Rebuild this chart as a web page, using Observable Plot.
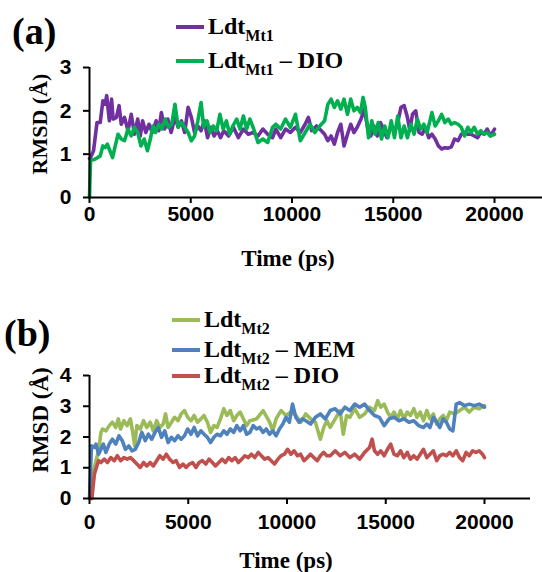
<!DOCTYPE html>
<html>
<head>
<meta charset="utf-8">
<script src="https://cdn.jsdelivr.net/npm/d3@7"></script>
<script src="https://cdn.jsdelivr.net/npm/@observablehq/plot@0.6"></script>
<style>
  html, body { margin: 0; padding: 0; background: #fff; overflow: hidden; }
  #wrap { position: relative; width: 542px; height: 572px; overflow: hidden; background: #fff; }
  .abs { position: absolute; white-space: nowrap; color: #000; }
  .serif { font-family: "Liberation Serif", "Times New Roman", serif; font-weight: bold; }
  .panel { font-size: 38px; line-height: 1; }
  .leg { font-size: 24px; line-height: 1; }
  .leg .sub { font-size: 16px; position: relative; top: 7px; }
  .swatch { position: absolute; height: 4px; width: 28px; }
  .ytitle { font-size: 22px; transform: translate(-50%, -50%) rotate(-90deg); line-height: 1; }
  .ytitle.big { font-size: 23px; }
  .xtitle { font-size: 23px; transform: translateX(-50%); line-height: 1; }
</style>
</head>
<body>
<div id="wrap">
  <div id="pa" class="abs" style="left:0;top:0"></div>
  <div id="pb" class="abs" style="left:0;top:300px"></div>
</div>
<script>
// ---------- panel (a) data ----------
const timeA1 = [0,50,200,370,530,660,770,850,980,1090,1170,1330,1460,1570,1730,1900,2060,2220,2380,2510,2620,2780,2940,3100,3290,3420,3550,3710,3870,4030,4220,4380,4540,4700,4870,5030,5190,5350,5510,5670,5830,5990,6150,6310,6470,6630,6870,7110,7350,7600,7840,8080,8320,8560,8800,9040,9200,9440,9680,9920,10170,10410,10650,10810,10970,11210,11450,11610,11770,11930,12090,12250,12410,12570,12740,12900,13060,13220,13410,13570,13730,13890,14050,14210,14370,14530,14690,14900,15060,15220,15380,15540,15700,15820,15950,16110,16270,16430,16590,16750,16910,17070,17230,17390,17550,17710,17870,18030,18200,18360,18520,18680,18840,19000,19160,19320,19480,19640,19800,20000];
const rmsdA1 = [0.9,0.92,1.08,1.73,1.73,2.23,2.15,2.35,1.77,2.27,1.81,1.85,2.12,1.69,1.85,1.54,1.92,1.46,1.81,1.42,1.77,1.5,1.69,1.5,1.77,1.54,1.96,1.58,1.81,1.5,1.85,1.62,1.77,1.5,2.08,1.85,1.5,1.65,1.54,1.77,1.38,1.62,1.42,1.54,1.38,1.54,1.42,1.62,1.38,1.58,1.46,1.5,1.42,1.58,1.46,1.38,1.58,1.38,1.58,1.5,1.62,1.5,1.69,1.85,1.54,1.65,1.54,1.46,1.31,1.42,1.23,1.5,1.69,1.19,1.46,1.69,1.5,1.62,1.81,2.04,1.62,1.42,1.65,1.42,1.73,1.54,1.38,1.65,1.5,1.73,2.08,2.12,1.85,1.54,1.92,2.0,1.5,1.46,1.62,1.38,1.46,1.35,1.19,1.12,1.15,1.14,1.17,1.35,1.31,1.46,1.5,1.46,1.46,1.42,1.38,1.5,1.46,1.58,1.42,1.58];

const timeA2 = [0,50,290,530,660,770,880,1010,1140,1250,1410,1570,1730,1900,2060,2220,2380,2540,2700,2860,3020,3130,3260,3420,3580,3740,3900,4060,4220,4380,4540,4700,4870,5030,5190,5350,5510,5640,5800,5960,6120,6280,6440,6600,6760,6920,7080,7270,7430,7600,7760,7920,8080,8320,8560,8800,9040,9200,9440,9680,9920,10170,10410,10650,10890,11130,11370,11610,11770,11930,12090,12250,12410,12570,12740,12900,13060,13220,13380,13510,13620,13780,13940,14100,14260,14420,14580,14740,14900,15060,15220,15380,15540,15700,15870,16030,16190,16350,16510,16670,16910,17070,17230,17390,17550,17710,17870,18030,18200,18360,18520,18680,18840,19000,19160,19320,19480,19640,19800,20000];
const rmsdA2 = [0,0.85,0.89,0.96,1.19,1.15,1.23,1.08,0.92,1.15,1.46,1.35,1.31,1.58,1.42,1.62,1.5,1.19,1.35,1.08,1.38,1.65,1.5,1.69,1.58,1.81,1.62,1.69,2.15,1.62,1.73,1.62,1.5,1.31,1.42,1.77,2.19,1.62,1.77,1.5,1.65,1.54,1.92,1.58,1.77,1.46,1.65,1.81,1.58,1.88,1.58,1.81,1.62,1.27,1.35,1.27,1.62,1.69,1.58,1.81,1.62,1.92,1.31,1.5,1.69,1.5,1.65,1.77,2.15,2.27,2.08,2.23,2.04,2.27,1.92,2.27,2.0,2.08,1.96,2.31,2.08,1.38,1.77,1.46,1.73,1.35,1.65,1.38,1.77,1.38,1.88,1.38,1.65,1.38,1.69,1.46,1.81,1.58,1.69,1.5,1.96,1.65,1.77,1.92,1.73,1.81,1.69,1.73,1.69,1.62,1.42,1.62,1.5,1.62,1.46,1.54,1.46,1.5,1.42,1.46];

// ---------- panel (b) data ----------
const timeB1 = [80,170,330,460,580,660,830,1000,1160,1330,1460,1570,1740,1900,2070,2190,2290,2400,2570,2740,2900,3070,3230,3400,3560,3730,3850,3980,4150,4310,4480,4640,4810,4970,5140,5300,5470,5640,5800,5970,6130,6300,6460,6630,6800,6960,7130,7300,7460,7630,7790,7960,8120,8460,8790,9120,9280,9450,9700,9950,10200,10450,10700,10950,11200,11440,11690,11860,12020,12190,12440,12690,12850,13020,13180,13430,13680,13930,14180,14430,14590,14750,14920,15090,15250,15420,15590,15750,15920,16090,16250,16420,16580,16750,16910,17080,17240,17410,17580,17740,17910,18070,18240,18490,18740,18990,19230,19480,19730,20000];
const rmsdB1 = [0,0.8,1.23,1.55,2.15,2.26,2.2,2.37,2.48,2.31,2.59,2.26,2.53,2.37,2.59,2.15,1.71,2.37,2.26,2.53,2.31,2.48,2.2,2.53,2.31,2.42,2.75,2.31,2.48,2.64,2.53,2.75,2.86,2.64,2.53,2.7,2.48,2.59,2.7,2.48,2.15,2.37,2.31,2.59,2.92,2.7,2.86,2.53,2.7,2.81,2.59,2.37,2.53,2.59,2.86,2.48,2.2,2.59,2.86,2.7,2.81,2.7,2.48,2.75,2.59,2.48,1.93,2.31,2.53,2.31,2.59,2.86,2.09,2.7,2.64,2.92,2.64,2.75,2.97,2.86,3.18,2.97,3.07,2.81,2.64,2.81,2.59,2.86,2.59,2.81,2.7,2.92,2.64,2.81,2.53,2.86,2.59,2.75,2.42,2.59,2.7,2.53,2.81,2.75,2.86,2.97,2.81,2.97,2.92,3.02];

const timeB2 = [0,100,250,330,460,580,700,830,1000,1160,1330,1490,1660,1820,1990,2150,2320,2490,2650,2820,2980,3150,3320,3480,3650,3810,3980,4150,4310,4480,4640,4810,4970,5140,5300,5470,5640,5800,5970,6130,6300,6460,6630,6800,6960,7130,7300,7460,7630,7790,7960,8120,8290,8460,8620,8790,8950,9120,9280,9450,9620,9790,9950,10120,10280,10450,10610,10780,10950,11200,11440,11690,11940,12190,12440,12690,12930,13180,13430,13680,13930,14180,14430,14680,14920,15170,15420,15670,15920,16170,16420,16670,16910,17080,17240,17410,17580,17740,17910,18070,18240,18400,18570,18740,18990,19230,19480,19730,20000];
const rmsdB2 = [0,1.71,1.66,1.77,1.44,1.6,1.77,1.5,1.77,1.93,1.77,2.04,1.88,1.6,1.71,1.55,1.6,1.82,2.15,1.88,2.09,1.93,2.15,2.31,1.99,2.2,1.82,1.99,1.88,2.04,1.93,2.04,2.26,2.09,2.31,2.04,2.2,2.09,1.99,1.82,1.99,2.09,2.04,2.2,2.09,2.26,2.15,2.37,2.2,2.37,2.09,2.15,2.37,2.26,2.31,2.15,2.26,2.09,2.2,2.04,2.26,2.42,2.64,2.48,3.07,2.64,2.48,2.59,2.53,2.42,2.64,2.75,2.59,2.86,2.92,2.75,2.97,2.86,3.07,2.97,3.07,2.86,2.7,2.64,2.37,2.59,2.64,2.53,2.59,2.48,2.53,2.37,2.31,2.42,2.31,2.64,2.48,2.31,2.59,2.48,2.26,2.2,3.07,3.12,3.02,3.07,3.02,3.07,2.97];

const timeB3 = [120,250,350,460,580,750,910,1080,1250,1410,1580,1740,1910,2070,2240,2400,2570,2740,2900,3070,3230,3400,3560,3730,3890,4060,4230,4390,4560,4730,4890,5060,5220,5390,5550,5720,5890,6050,6220,6380,6550,6710,6880,7050,7210,7380,7540,7710,7870,8040,8200,8370,8540,8700,8870,9040,9200,9370,9540,9700,9870,10030,10200,10360,10530,10690,10860,11030,11190,11360,11530,11690,11860,12020,12190,12440,12690,12930,13180,13430,13680,13930,14180,14310,14430,14590,14750,14920,15090,15250,15420,15590,15750,15920,16090,16250,16420,16580,16750,16910,17080,17240,17410,17580,17740,17910,18070,18240,18400,18570,18740,18900,19070,19230,19400,19560,19730,19900,20000];
const rmsdB3 = [0,0.8,1.01,1.23,1.17,1.28,1.17,1.33,1.23,1.39,1.23,1.33,1.28,1.33,1.23,1.12,1.01,1.17,1.06,1.17,1.06,1.23,1.39,1.28,1.44,1.28,1.17,1.23,1.01,1.12,1.01,1.12,1.17,1.01,1.17,1.23,1.12,1.28,1.17,1.06,1.17,1.28,1.17,1.33,1.23,1.33,1.17,1.28,1.39,1.33,1.44,1.33,1.5,1.39,1.28,1.33,1.23,1.12,1.28,1.39,1.44,1.6,1.44,1.55,1.39,1.44,1.23,1.33,1.44,1.33,1.23,1.39,1.5,1.39,1.39,1.55,1.39,1.5,1.33,1.44,1.28,1.5,1.66,1.93,1.55,1.44,1.55,1.39,1.6,1.77,1.44,1.39,1.55,1.33,1.5,1.28,1.39,1.28,1.44,1.6,1.33,1.44,1.55,1.23,1.39,1.44,1.39,1.5,1.39,1.55,1.33,1.23,1.5,1.39,1.55,1.5,1.55,1.44,1.33];

// ---------- labels, ticks, colours ----------
const xTicks = [0, 5000, 10000, 15000, 20000];
const yTicksA = [0, 1, 2, 3];
const yTicksB = [0, 1, 2, 3, 4];
const seriesA = [
  {name: "Ldt", sub: "Mt1", suffix: "", color: "#7030A0", t: timeA1, v: rmsdA1},
  {name: "Ldt", sub: "Mt1", suffix: " \u2013 DIO", color: "#00B050", t: timeA2, v: rmsdA2}
];
const seriesB = [
  {name: "Ldt", sub: "Mt2", suffix: "", color: "#9BBB59", t: timeB1, v: rmsdB1},
  {name: "Ldt", sub: "Mt2", suffix: " \u2013 MEM", color: "#4F81BD", t: timeB2, v: rmsdB2},
  {name: "Ldt", sub: "Mt2", suffix: " \u2013 DIO", color: "#C0504D", t: timeB3, v: rmsdB3}
];
const xTitle = "Time (ps)";
const yTitle = "RMSD (\u00C5)";

const toRows = s => s.t.map((t, i) => ({t, v: s.v[i]}));

function makePanel(series, opts) {
  return Plot.plot({
    width: 542,
    height: opts.height,
    marginLeft: opts.ml, marginRight: opts.mr, marginTop: opts.mt, marginBottom: opts.mb,
    x: {domain: opts.xDomain},
    y: {domain: opts.yDomain},
    style: {fontFamily: "'Liberation Sans', Arial, sans-serif", fontWeight: "bold", color: "#000", background: "transparent", overflow: "visible"},
    marks: [
      ...series.map(s => Plot.line(toRows(s), {x: "t", y: "v", stroke: s.color, strokeWidth: 3.6, strokeLinejoin: "round", curve: "linear"})),
      Plot.ruleY([0], {stroke: "#000", strokeWidth: 2}),
      Plot.ruleX([0], {stroke: "#000", strokeWidth: 2}),
      Plot.axisX({ticks: xTicks, tickFormat: d3.format("d"), tickSize: 6, tickPadding: opts.xPad, strokeWidth: 2, fontSize: 21, fontWeight: "bold", label: null}),
      Plot.axisY({ticks: opts.yTicks, tickFormat: d3.format("d"), tickSize: 6, tickPadding: 12, strokeWidth: 2, fontSize: 21, fontWeight: "bold", label: null})
    ]
  });
}

document.getElementById("pa").appendChild(makePanel(seriesA, {
  height: 245, ml: 89, mr: 0, mt: 67, mb: 48, xDomain: [0, 22370], yDomain: [0, 3], yTicks: yTicksA, xPad: 3
}));
document.getElementById("pb").appendChild(makePanel(seriesB, {
  height: 246, ml: 89, mr: 12, mt: 75, mb: 48, xDomain: [0, 22330], yDomain: [0, 4], yTicks: yTicksB, xPad: 10
}));

// ---------- HTML text: panel letters, legends, axis titles ----------
const wrap = document.getElementById("wrap");
function addText(html, cls, left, top) {
  const d = document.createElement("div");
  d.className = "abs serif " + cls;
  d.style.left = left + "px";
  d.style.top = top + "px";
  d.innerHTML = html;
  wrap.appendChild(d);
  return d;
}
function addLegend(series, x0, ys) {
  series.forEach((s, i) => {
    const sw = document.createElement("div");
    sw.className = "swatch";
    sw.style.left = x0 + "px";
    sw.style.top = (ys[i] - 2) + "px";
    sw.style.background = s.color;
    wrap.appendChild(sw);
    addText(`${s.name}<span class="sub">${s.sub}</span>${s.suffix}`, "leg", x0 + 32, ys[i] - 13);
  });
}
addText("(a)", "panel", 12, 12);
addText("(b)", "panel", 4, 314);
addLegend(seriesA, 176, [27, 61]);
addLegend(seriesB, 172, [320, 350, 376]);
addText(yTitle, "ytitle", 40, 124);
addText(yTitle, "ytitle big", 40, 420);
addText(xTitle, "xtitle", 288, 247);
addText(xTitle, "xtitle", 286, 549);
</script>
</body>
</html>
